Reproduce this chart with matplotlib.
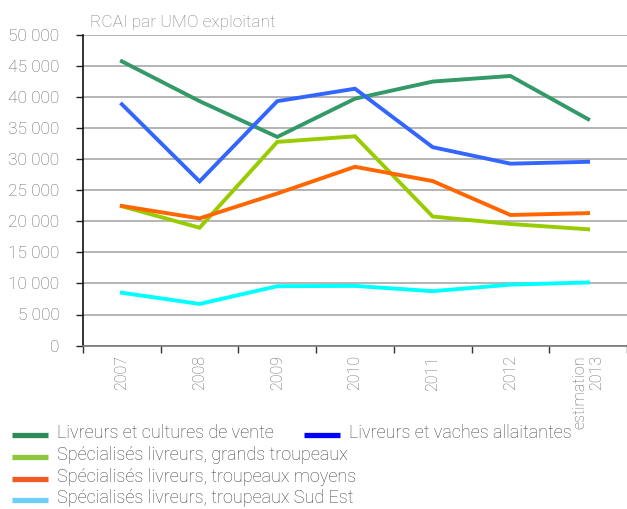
import matplotlib
matplotlib.use("Agg")
import matplotlib.pyplot as plt
from matplotlib.lines import Line2D
from matplotlib.ticker import FuncFormatter, FixedLocator

plt.rcParams['font.family'] = ['Roboto', 'DejaVu Sans']

categories = ["2007", "2008", "2009", "2010", "2011", "2012", "estimation\n2013"]
series_names = [
    "Livreurs et cultures de vente",
    "Livreurs et vaches allaitantes",
    "Spécialisés livreurs, grands troupeaux",
    "Spécialisés livreurs, troupeaux moyens",
    "Spécialisés livreurs, troupeaux Sud Est",
]
cultures_vente = [45700, 39300, 33550, 39700, 42450, 43350, 36400]
vaches_allaitantes = [38800, 26400, 39300, 41300, 31900, 29250, 29550]
grands_troupeaux = [22400, 18950, 32750, 33650, 20750, 19550, 18700]
troupeaux_moyens = [22450, 20450, 24450, 28750, 26450, 21000, 21300]
sud_est = [8500, 6700, 9550, 9600, 8750, 9800, 10150]
y_ticks = [0, 5000, 10000, 15000, 20000, 25000, 30000, 35000, 40000, 45000, 50000]

series = [cultures_vente, vaches_allaitantes, grands_troupeaux, troupeaux_moyens, sud_est]
line_colors = ["#339966", "#3366ff", "#99cc00", "#ff6600", "#00ffff"]
legend_colors = ["#2e8b57", "#0000ff", "#8dc63f", "#f15a24", "#6dcff6"]

fig = plt.figure(figsize=(6.27, 5.09), dpi=100)
ax = fig.add_axes([83/627, 1-345.6/509, 1-83/627, (345.6-34.6)/509])

x = list(range(len(categories)))
for vals, c in zip(series, line_colors):
    ax.plot(x, vals, color=c, lw=2.8, solid_joinstyle='miter', zorder=3)

ax.set_xlim(-0.5, len(categories)-0.5)
ax.set_ylim(0, 50000)
ax.set_yticks(y_ticks)
ax.yaxis.set_major_formatter(FuncFormatter(lambda v, p: f"{int(v):,}".replace(",", " ")))
ax.grid(axis='y', color='#b4b4b4', lw=1.4, zorder=0)
ax.set_axisbelow(True)

ax.xaxis.set_major_locator(FixedLocator(x))
ax.set_xticklabels(categories, rotation=90, va='top', ha='center', multialignment='right')
ax.xaxis.set_minor_locator(FixedLocator([i - 0.5 for i in range(len(categories)+1)]))
ax.tick_params(axis='x', which='major', length=0, pad=7, labelsize=11.5, labelcolor='#666666')
ax.tick_params(axis='x', which='minor', length=5, width=1, color='#333333', direction='out')
ax.tick_params(axis='y', length=5, width=1, color='#222222', labelsize=12.5, labelcolor='#666666', pad=12)
for lab in ax.get_xticklabels() + ax.get_yticklabels():
    lab.set_fontweight('light')

for s in ['top', 'right']:
    ax.spines[s].set_visible(False)
ax.spines['left'].set_color('#111111')
ax.spines['left'].set_linewidth(1.2)
ax.spines['bottom'].set_color('#777777')
ax.spines['bottom'].set_linewidth(1.2)

fig.text(90/627, 1-22/509, "RCAI par UMO exploitant", fontsize=12.5, color='#808080',
         va='center', ha='left', fontweight='light')

# legend (Excel-like layout)
legend_pos = [(12, 435), (304, 435), (12, 457), (12, 479), (12, 500)]
for (px, py), name, c in zip(legend_pos, series_names, legend_colors):
    fig.add_artist(Line2D([px/627, (px+36)/627], [1-py/509, 1-py/509], color=c, lw=3.8,
                          solid_capstyle='butt', transform=fig.transFigure))
    fig.text((px+45)/627, 1-(py-2)/509, name, fontsize=13, color='#444444', va='center',
             ha='left', fontweight='light')

fig.savefig("out.png", dpi=100)
